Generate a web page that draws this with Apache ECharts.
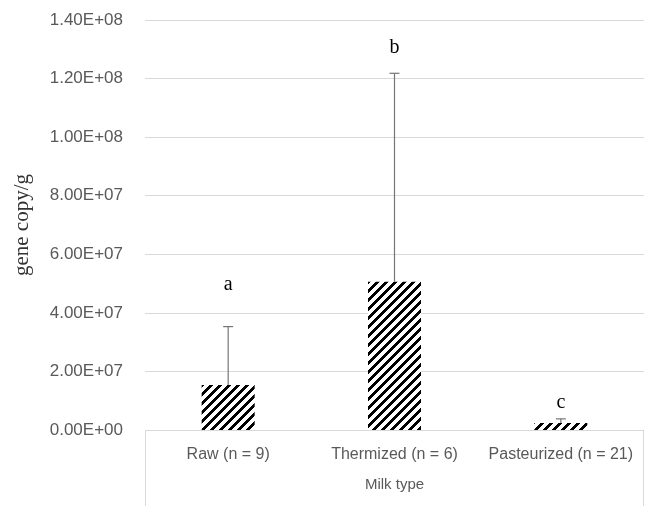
<!DOCTYPE html>
<html>
<head>
<meta charset="utf-8">
<script src="https://cdn.jsdelivr.net/npm/echarts@6/dist/echarts.min.js"></script>
<style>
  html, body { margin: 0; padding: 0; background: #fff; }
  #chart { width: 645px; height: 506px; }
</style>
</head>
<body>
<div id="chart"></div>
<script>
var categories = ['Raw (n = 9)', 'Thermized (n = 6)', 'Pasteurized (n = 21)'];
var means = [1.54e7, 5.06e7, 2.4e6];
var errTops = [3.53e7, 1.218e8, 3.8e6];
var letters = ['a', 'b', 'c'];
var letterPos = [4.95e7, 1.304e8, 9.2e6];

// diagonal hatch tile, pixel by pixel so it tiles cleanly
var P = 9;
var tile = document.createElement('canvas');
tile.width = P;
tile.height = P;
var ctx = tile.getContext('2d');
var img = ctx.createImageData(P, P);
for (var y = 0; y < P; y++) {
    for (var x = 0; x < P; x++) {
        var k = (x + y) % P;
        var v = k < 4 ? 0 : 255;
        var o = (y * P + x) * 4;
        img.data[o] = img.data[o + 1] = img.data[o + 2] = v;
        img.data[o + 3] = 255;
    }
}
ctx.putImageData(img, 0, 0);

function sci(v) {
    if (v === 0) return '0.00E+00';
    var e = Math.floor(Math.log10(v));
    var m = v / Math.pow(10, e);
    return m.toFixed(2) + 'E+' + (e < 10 ? '0' + e : e);
}

var chart = echarts.init(document.getElementById('chart'));
var option = {
    animation: false,
    grid: { left: 145, right: 1, top: 20, bottom: 76, outerBoundsMode: 'none' },
    graphic: [{
        type: 'rect',
        shape: { x: 145.5, y: 430.5, width: 498, height: 90 },
        style: { fill: 'none', stroke: '#d9d9d9', lineWidth: 1 },
        z: -1
    }],
    xAxis: {
        type: 'category',
        data: categories,
        name: 'Milk type',
        nameLocation: 'middle',
        nameGap: 47,
        nameTextStyle: { fontFamily: 'Liberation Sans', fontSize: 15, color: '#595959' },
        axisLine: { show: false },
        axisTick: { show: false },
        axisLabel: {
            fontFamily: 'Liberation Sans', fontSize: 16, color: '#595959', margin: 17,
            interval: 0, hideOverlap: false
        }
    },
    yAxis: {
        type: 'value',
        min: 0,
        max: 1.4e8,
        interval: 2e7,
        name: 'gene copy/g',
        nameLocation: 'middle',
        nameGap: 112,
        nameTextStyle: { fontFamily: 'Liberation Serif', fontSize: 21, color: '#333' },
        axisLine: { show: false },
        axisTick: { show: false },
        splitLine: { lineStyle: { color: '#d9d9d9', width: 1 } },
        axisLabel: {
            fontFamily: 'Liberation Sans', fontSize: 17, color: '#595959', margin: 22,
            formatter: sci
        }
    },
    series: [
        {
            type: 'bar',
            data: means,
            barWidth: 53,
            itemStyle: { color: { image: tile, repeat: 'repeat' } }
        },
        {
            type: 'custom',
            data: categories.map(function (c, i) { return [i, means[i], errTops[i]]; }),
            renderItem: function (params, api) {
                var p0 = api.coord([api.value(0), api.value(1)]);
                var p1 = api.coord([api.value(0), api.value(2)]);
                return {
                    type: 'group',
                    children: [
                        { type: 'line', shape: { x1: p0[0], y1: p0[1], x2: p1[0], y2: p1[1] },
                          style: { stroke: '#767676', lineWidth: 1.2 } },
                        { type: 'line', shape: { x1: p1[0] - 5, y1: p1[1], x2: p1[0] + 5, y2: p1[1] },
                          style: { stroke: '#767676', lineWidth: 1.2 } }
                    ]
                };
            },
            z: 3
        },
        {
            type: 'custom',
            data: categories.map(function (c, i) { return [i, letterPos[i]]; }),
            renderItem: function (params, api) {
                var p = api.coord([api.value(0), api.value(1)]);
                return {
                    type: 'text',
                    x: p[0], y: p[1],
                    style: {
                        text: letters[params.dataIndex],
                        font: '20px "Liberation Serif"',
                        fill: '#000',
                        align: 'center',
                        verticalAlign: 'middle'
                    }
                };
            },
            z: 4
        }
    ]
};
chart.setOption(option);
window.onresize = chart.resize;
</script>
</body>
</html>
